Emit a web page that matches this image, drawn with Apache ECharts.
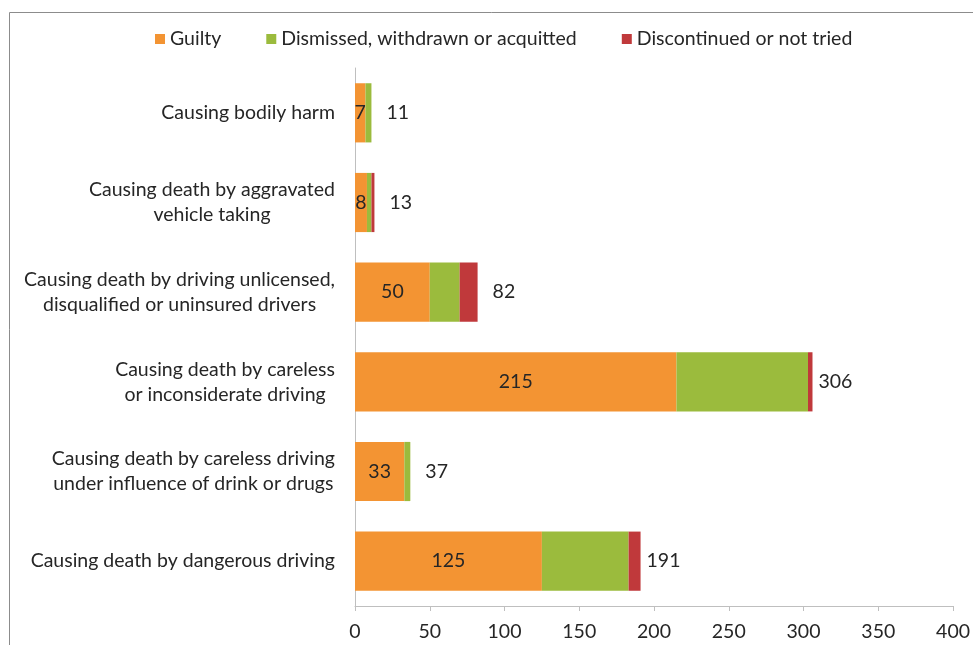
<!DOCTYPE html>
<html>
<head>
<meta charset="utf-8">
<style>
  html, body { margin: 0; padding: 0; background: #ffffff; }
  #chart { width: 973px; height: 645px; }
</style>
<script src="https://cdn.jsdelivr.net/npm/echarts@6/dist/echarts.min.js"></script>
</head>
<body>
<div id="chart"></div>
<script>
// Offence categories, listed top to bottom
const categories = [
  ['Causing bodily harm'],
  ['Causing death by aggravated', 'vehicle taking'],
  ['Causing death by driving unlicensed,', 'disqualified or uninsured drivers'],
  ['Causing death by careless', 'or inconsiderate driving'],
  ['Causing death by careless driving', 'under influence of drink or drugs'],
  ['Causing death by dangerous driving']
];
const guilty       = [7, 8, 50, 215, 33, 125];
const dismissed    = [4, 3, 20, 88, 4, 58];
const discontinued = [0, 2, 12, 3, 0, 8];
const totals       = [11, 13, 82, 306, 37, 191];
const xTicks = { min: 0, max: 400, step: 50 };

const FONT = 'Lato';
const FS = 19.5;
const TEXT = '#262626';

// the category axis runs bottom-up, so feed it reversed
const rev = a => a.slice().reverse();
const catKeys = rev(categories.map(c => c.join('\n')));

// total labels: wider numbers sit closer to the bar end
const totalData = rev(totals).map(v => ({
  value: v,
  label: { distance: v >= 100 ? 6 : 15 }
}));

const chart = echarts.init(document.getElementById('chart'), null, { renderer: 'canvas' });
chart.setOption({
  animation: false,
  backgroundColor: '#ffffff',
  textStyle: { fontFamily: FONT },
  graphic: [{
    type: 'rect',
    shape: { x: 9.5, y: 12.5, width: 1000, height: 700 },
    style: { fill: 'none', stroke: '#8c8c8c', lineWidth: 1 }
  }],
  legend: {
    top: 24,
    left: 150,
    itemWidth: 10,
    itemHeight: 10,
    itemGap: 45,
    icon: 'rect',
    data: ['Guilty', 'Dismissed, withdrawn or acquitted', 'Discontinued or not tried'],
    textStyle: { fontFamily: FONT, fontSize: FS, color: TEXT }
  },
  grid: { left: 355, right: 16, top: 68, bottom: 39, containLabel: false },
  xAxis: {
    type: 'value',
    min: xTicks.min,
    max: xTicks.max,
    interval: xTicks.step,
    axisLine: { show: true, lineStyle: { color: '#bfbfbf' } },
    axisTick: { show: true, length: 5, lineStyle: { color: '#bfbfbf' } },
    splitLine: { show: false },
    axisLabel: { fontFamily: FONT, fontSize: FS, color: TEXT, margin: 16 }
  },
  yAxis: {
    type: 'category',
    data: catKeys,
    axisLine: { show: true, lineStyle: { color: '#bfbfbf' } },
    axisTick: { show: false },
    axisLabel: {
      margin: 20,
      align: 'right',
      formatter: v => v.split('\n').map(l => '{c|' + l + '}').join('\n'),
      rich: {
        c: { fontFamily: FONT, fontSize: FS, color: TEXT, align: 'center', lineHeight: 25 }
      }
    }
  },
  series: [
    {
      name: 'Guilty',
      type: 'bar',
      stack: 'n',
      barWidth: '66%',
      data: rev(guilty),
      itemStyle: { color: '#F39433' },
      label: {
        show: true, position: 'inside',
        fontFamily: FONT, fontSize: FS, color: TEXT
      }
    },
    {
      name: 'Dismissed, withdrawn or acquitted',
      type: 'bar',
      stack: 'n',
      data: rev(dismissed),
      itemStyle: { color: '#9BBB3D' }
    },
    {
      name: 'Discontinued or not tried',
      type: 'bar',
      stack: 'n',
      data: rev(discontinued),
      itemStyle: { color: '#C0393B' }
    },
    {
      // invisible bar spanning the full stack, carrying the total label
      name: 'Total',
      type: 'bar',
      barGap: '-100%',
      barWidth: '66%',
      data: totalData,
      itemStyle: { color: 'rgba(0,0,0,0)' },
      silent: true,
      z: 0,
      label: {
        show: true, position: 'right',
        fontFamily: FONT, fontSize: FS, color: TEXT
      }
    }
  ]
});
</script>
</body>
</html>
